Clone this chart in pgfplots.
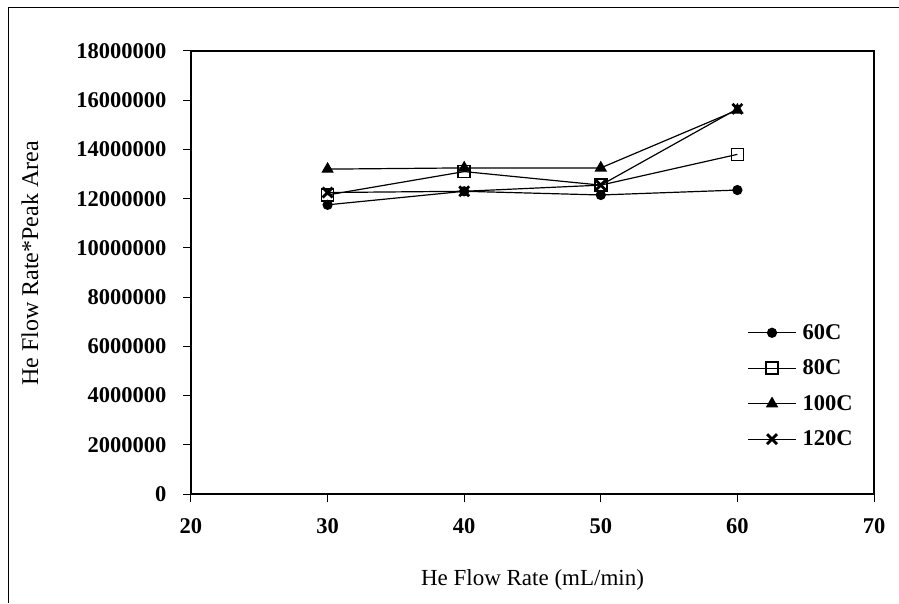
\documentclass[border=0pt]{standalone}
\usepackage{pgfplots}
\pgfplotsset{compat=1.18}
\usepackage{fontspec}
\setmainfont{Liberation Serif}
\begin{document}
\begin{tikzpicture}[x=1pt,y=1pt]
\useasboundingbox (0,0) rectangle (899,603);
\draw[line width=0.8pt] (8,0) -- (8,596) -- (899,596);
\begin{axis}[
  at={(191pt,109pt)}, anchor=south west,
  scale only axis, width=683pt, height=443pt,
  xmin=20, xmax=70, ymin=0, ymax=18000000,
  xtick={20,30,40,50,60,70},
  ytick={0,2000000,4000000,6000000,8000000,10000000,12000000,14000000,16000000,18000000},
  scaled y ticks=false,
  yticklabel style={/pgf/number format/fixed, /pgf/number format/1000 sep={}},
  /pgf/number format/assume math mode=true,
  tick align=outside, tick pos=left,
  major tick length=8pt,
  axis line style={line width=1.6pt},
  every tick/.style={black, line width=1pt},
  ticklabel style={font=\fontsize{22.5}{26}\selectfont\bfseries},
  xticklabel style={yshift=-13pt},
  yticklabel style={xshift=-13pt},
  xlabel={He Flow Rate (mL/min)},
  ylabel={He Flow Rate*Peak Area},
  xlabel style={font=\fontsize{23}{26}\selectfont, at={(axis description cs:0.5,-0.194)}, anchor=center},
  ylabel style={font=\fontsize{24}{27}\selectfont, at={(axis description cs:-0.2357,0.52)}, anchor=center, rotate=0},
  legend style={at={(0.81,0.392)}, anchor=north west, draw=none, fill=none,
    font=\fontsize{22.5}{26}\selectfont\bfseries, row sep=15pt,
    nodes={inner xsep=6pt}},
  legend cell align=left,
  legend image code/.code={\draw[mark repeat=2,mark phase=2,#1] plot coordinates {(0pt,0pt)(24pt,0pt)(48pt,0pt)};},
  every axis plot/.append style={black, line width=1.2pt},
]
\addplot[mark=*, mark size=4.5pt] coordinates {(30,11750000)(40,12300000)(50,12150000)(60,12350000)};
\addlegendentry{60C}
\addplot[mark=square, mark size=6pt, mark options={fill=white, line width=1.5pt}] coordinates {(30,12150000)(40,13100000)(50,12550000)(60,13800000)};
\addlegendentry{80C}
\addplot[mark=triangle*, mark size=6pt] coordinates {(30,13200000)(40,13250000)(50,13250000)(60,15600000)};
\addlegendentry{100C}
\addplot[mark=x, mark size=7pt, mark options={line width=2.8pt}] coordinates {(30,12250000)(40,12300000)(50,12550000)(60,15650000)};
\addlegendentry{120C}
\end{axis}
\end{tikzpicture}
\end{document}
